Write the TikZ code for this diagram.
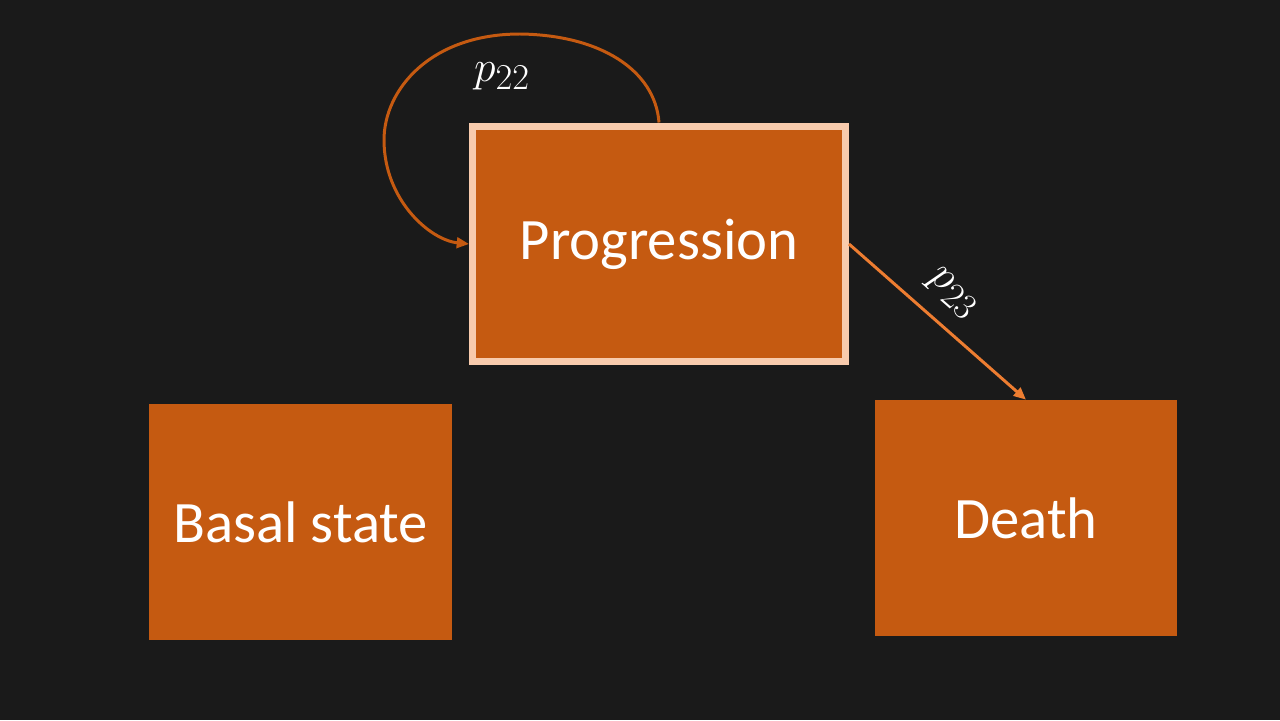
\documentclass[tikz,border=0pt]{standalone}
\usepackage{fontspec}
\setmainfont{Carlito}
\usetikzlibrary{arrows.meta}
\definecolor{bg}{HTML}{1A1A1A}
\definecolor{boxfill}{HTML}{C55A11}
\definecolor{boxline}{HTML}{F8CBAD}
\definecolor{arrowlight}{HTML}{ED7D31}
\begin{document}
\begin{tikzpicture}[x=0.02cm,y=-0.02cm,
  state/.style={fill=boxfill,draw=none,text=white,font=\fontsize{33.4}{40}\selectfont,inner sep=0pt,minimum height=4.72cm},
  tip/.style={-{Triangle[length=7pt,width=6pt]}},
  lbl/.style={text=white,font=\fontsize{28}{32}\selectfont}]
\fill[bg] (0,0) rectangle (1280,720);
\useasboundingbox (0,0) rectangle (1280,720);
\node[state,draw=boxline,line width=4pt,minimum width=7.46cm] (prog) at (659,244) {Progression};
\node[state,minimum width=6.06cm] (basal) at (300.5,522) {Basal state};
\node[state,minimum width=6.04cm] (death) at (1026,518) {Death};
\draw[boxfill,line width=1.7pt,tip] (prog.north) .. controls (655,70) and (600,35) .. (520,34)
  .. controls (430,34) and (384,90) .. (384,140)
  .. controls (384,200) and (430,240) .. (prog.west);
\node[lbl] (p22) at (502,76) {$p_{22}$};
\draw[arrowlight,line width=1.7pt,tip] (prog.east) -- (death.north)
  node[lbl,pos=0.47,above=6pt,sloped] (p23) {$p_{23}$};
\end{tikzpicture}
\end{document}
